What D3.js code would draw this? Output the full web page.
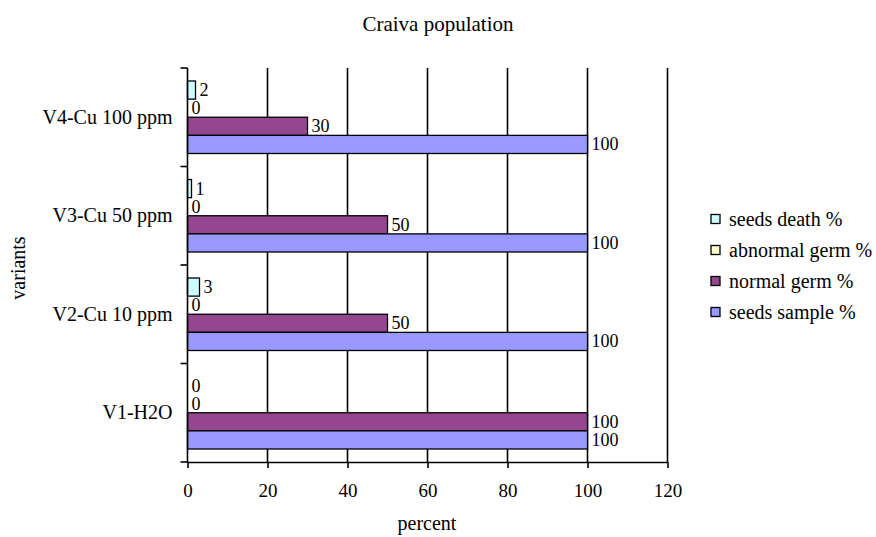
<!DOCTYPE html>
<html>
<head>
<meta charset="utf-8">
<script src="https://cdn.jsdelivr.net/npm/d3@7/dist/d3.min.js"></script>
<style>
  html, body { margin: 0; padding: 0; background: #fff; }
  svg { display: block; }
  svg text { font-family: "Liberation Serif", "DejaVu Serif", serif !important; fill: #000; }
</style>
</head>
<body>
<svg id="chart" width="876" height="537"></svg>
<script>
// Germination test, Craiva population
const variants = ["V4-Cu 100 ppm", "V3-Cu 50 ppm", "V2-Cu 10 ppm", "V1-H2O"];
const seriesNames = ["seeds death %", "abnormal germ %", "normal germ %", "seeds sample %"];
const seedsDeath   = [2, 1, 3, 0];
const abnormalGerm = [0, 0, 0, 0];
const normalGerm   = [30, 50, 50, 100];
const seedsSample  = [100, 100, 100, 100];
const xTicks = [0, 20, 40, 60, 80, 100, 120];

const seriesValues = [seedsDeath, abnormalGerm, normalGerm, seedsSample];
const colors = ["#CCFFFF", "#FFFFCC", "#944790", "#9999FF"];
const serif = "'Liberation Serif', 'DejaVu Serif', serif";

const svg = d3.select("#chart").attr("font-family", serif);
const plot = { left: 187.5, right: 667.5, top: 68, bottom: 462 };

const x = d3.scaleLinear().domain([0, 120]).range([plot.left, plot.right]);
const y = d3.scaleBand().domain(variants).range([plot.top, plot.bottom]);
const yInner = d3.scaleBand().domain(seriesNames)
  .range([13, y.bandwidth() - 13]);

// vertical gridlines
svg.append("g").selectAll("line")
  .data(xTicks.slice(1))
  .join("line")
  .attr("x1", d => x(d)).attr("x2", d => x(d))
  .attr("y1", plot.top).attr("y2", plot.bottom)
  .attr("stroke", "#000").attr("stroke-width", 1.6);

// bars with value labels
const groups = svg.append("g").selectAll("g")
  .data(variants)
  .join("g")
  .attr("transform", d => `translate(0,${y(d)})`);

groups.each(function (v, i) {
  const g = d3.select(this);
  seriesNames.forEach((s, j) => {
    const val = seriesValues[j][i];
    const yy = yInner(s);
    if (val > 0) {
      g.append("rect")
        .attr("x", x(0)).attr("y", yy)
        .attr("width", x(val) - x(0))
        .attr("height", yInner.bandwidth())
        .attr("fill", colors[j])
        .attr("stroke", "#000").attr("stroke-width", 1.3);
    }
    g.append("text")
      .attr("x", x(val) + 4)
      .attr("y", yy + yInner.bandwidth() / 2 + 6)
      .attr("font-size", 18)
      .text(val);
  });
});

// y axis
const yAxis = svg.append("g");
yAxis.append("line")
  .attr("x1", plot.left).attr("x2", plot.left)
  .attr("y1", plot.top).attr("y2", plot.bottom)
  .attr("stroke", "#000").attr("stroke-width", 1.6);
const yEdges = variants.map(v => y(v)).concat([plot.bottom]);
yAxis.selectAll("line.tick")
  .data(yEdges)
  .join("line")
  .attr("class", "tick")
  .attr("x1", plot.left - 7).attr("x2", plot.left)
  .attr("y1", d => d).attr("y2", d => d)
  .attr("stroke", "#000").attr("stroke-width", 1.6);
yAxis.selectAll("text")
  .data(variants)
  .join("text")
  .attr("x", plot.left - 15)
  .attr("y", d => y(d) + y.bandwidth() / 2 + 6.5)
  .attr("text-anchor", "end")
  .attr("font-size", 20)
  .text(d => d);

// x axis
const xAxis = d3.axisBottom(x).tickValues(xTicks).tickSize(6).tickSizeOuter(0);
const xg = svg.append("g")
  .attr("transform", `translate(0,${plot.bottom})`)
  .call(xAxis)
  .attr("font-family", serif);
xg.select(".domain").attr("stroke", "#000").attr("stroke-width", 1.6);
xg.selectAll(".tick line").attr("stroke", "#000").attr("stroke-width", 1.6);
xg.selectAll(".tick text")
  .attr("font-size", 19)
  .attr("dy", 0).attr("y", 35);

// titles
svg.append("text")
  .attr("x", 438).attr("y", 31)
  .attr("text-anchor", "middle").attr("font-size", 21)
  .text("Craiva population");
svg.append("text")
  .attr("x", 427).attr("y", 530)
  .attr("text-anchor", "middle").attr("font-size", 20)
  .text("percent");
svg.append("text")
  .attr("transform", "translate(25,268) rotate(-90)")
  .attr("text-anchor", "middle").attr("font-size", 20)
  .text("variants");

// legend
const legend = svg.append("g");
const legendRows = legend.selectAll("g")
  .data(seriesNames)
  .join("g")
  .attr("transform", (d, i) => `translate(711,${219 + i * 31})`);
legendRows.append("rect")
  .attr("x", 0).attr("y", -4.5)
  .attr("width", 9).attr("height", 9)
  .attr("fill", (d, i) => colors[i])
  .attr("stroke", "#000").attr("stroke-width", 1.3);
legendRows.append("text")
  .attr("x", 18).attr("y", 7)
  .attr("font-size", 20)
  .text(d => d);
</script>
</body>
</html>
